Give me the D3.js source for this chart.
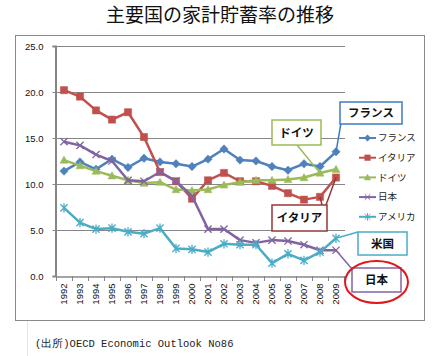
<!DOCTYPE html>
<html><head><meta charset="utf-8">
<script src="https://cdn.jsdelivr.net/npm/d3@7"></script>
<style>
html,body{margin:0;padding:0;background:#fff;}
svg{display:block;}
</style></head>
<body>
<svg id="c" width="439" height="356"></svg>
<script>
const title = "主要国の家計貯蓄率の推移";
const source = "(出所)OECD Economic Outlook No86";
const years = ["1992","1993","1994","1995","1996","1997","1998","1999","2000","2001","2002","2003","2004","2005","2006","2007","2008","2009"];
const seriesNames = ["フランス","イタリア","ドイツ","日本","アメリカ"];
const france  = [11.4,12.4,11.6,12.7,11.8,12.8,12.4,12.2,11.9,12.7,13.8,12.6,12.5,11.9,11.5,12.2,11.9,13.5];
const italy   = [20.2,19.5,18.0,17.0,17.8,15.1,11.3,10.3,8.4,10.4,11.2,10.3,10.3,9.8,9.0,8.3,8.6,10.7];
const germany = [12.6,12.0,11.4,10.9,10.4,10.1,10.2,9.4,9.3,9.4,9.9,10.2,10.4,10.4,10.5,10.7,11.2,11.6];
const japan   = [14.6,14.2,13.2,12.5,10.4,10.3,11.3,10.3,8.7,5.1,5.1,3.9,3.6,3.9,3.8,3.4,2.8,2.8];
const usa     = [7.4,5.8,5.1,5.2,4.8,4.6,5.2,3.0,2.9,2.6,3.5,3.4,3.4,1.4,2.4,1.7,2.6,4.1];
const yTicks  = [0,5,10,15,20,25];
const callouts = ["フランス","ドイツ","イタリア","米国","日本"];

const colors = ["#4F81BD","#C0504D","#9BBB59","#8064A2","#4BACC6"];
const markers = ["diamond","square","triangle","times","star"];
const allSeries = [france, italy, germany, japan, usa];

const svg = d3.select("#c");
const cjk = "'Noto Sans CJK JP','Noto Sans',sans-serif";

// title
svg.append("text").attr("x",220).attr("y",22).attr("text-anchor","middle")
  .attr("font-family",cjk).attr("font-size",19).attr("font-weight",400).attr("fill","#111").text(title);

// chart frame
svg.append("rect").attr("x",15.5).attr("y",35.5).attr("width",409).attr("height",285)
  .attr("fill","#fff").attr("stroke","#8a8a8a").attr("stroke-width",1);
svg.append("line").attr("x1",27.5).attr("x2",27.5).attr("y1",321).attr("y2",356).attr("stroke","#e4e4e4");

const x = d3.scaleBand().domain(years).range([56,344]);
const y = d3.scaleLinear().domain([0,25]).range([276,46]);
const cx = d => x(d) + x.bandwidth()/2;

// gridlines
svg.append("g").selectAll("line").data(yTicks.filter(d=>d>0)).join("line")
  .attr("x1",56).attr("x2",345).attr("y1",d=>Math.round(y(d))+0.5).attr("y2",d=>Math.round(y(d))+0.5)
  .attr("stroke","#868686").attr("stroke-width",1);

// y axis
const ya = svg.append("g").attr("transform","translate(55.5,0)")
  .call(d3.axisLeft(y).tickValues(yTicks).tickFormat(d3.format(".1f")).tickSize(3).tickPadding(9));
ya.select(".domain").attr("stroke","#868686").attr("stroke-width",2);
ya.selectAll(".tick line").attr("stroke","#868686");
ya.selectAll("text").attr("font-family","'Liberation Sans',Arial,sans-serif").attr("font-size",9.5).attr("fill","#111");

// x axis
const xa = svg.append("g").attr("transform","translate(0,276.5)")
  .call(d3.axisBottom(x).tickSize(0).tickPadding(0));
xa.select(".domain").attr("stroke","#868686").attr("stroke-width",1.5);
xa.selectAll("text").attr("font-family","'Liberation Sans',Arial,sans-serif").attr("font-size",9.5).attr("fill","#111")
  .attr("text-anchor","end").attr("dy","0.35em").attr("transform","translate(0,7) rotate(-90)");
svg.append("g").selectAll("line").data(years.concat(["end"])).join("line")
  .attr("x1",d=> d==="end" ? x.range()[1]+0.5 : Math.round(x(d))+0.5)
  .attr("x2",d=> d==="end" ? x.range()[1]+0.5 : Math.round(x(d))+0.5)
  .attr("y1",276).attr("y2",281).attr("stroke","#868686");

// marker path generator
function markerPath(type, s){
  switch(type){
    case "diamond": return `M0,${-s}L${s},0L0,${s}L${-s},0Z`;
    case "square": return `M${-s},${-s}H${s}V${s}H${-s}Z`;
    case "triangle": return `M0,${-s}L${s},${s*0.8}L${-s},${s*0.8}Z`;
    case "times": return `M${-s},${-s}L${s},${s}M${-s},${s}L${s},${-s}`;
    case "star": return `M${-s},${-s}L${s},${s}M${-s},${s}L${s},${-s}M0,${-s-1}L0,${s+1}`;
  }
}
const filled = t => t==="diamond"||t==="square"||t==="triangle";

const line = d3.line().x((d,i)=>cx(years[i])).y(d=>y(d));
allSeries.forEach((vals, si)=>{
  const g = svg.append("g");
  g.append("path").datum(vals).attr("d",line).attr("fill","none")
    .attr("stroke",colors[si]).attr("stroke-width",2.5).attr("stroke-linejoin","round");
  const size = markers[si]==="diamond"?4.2: markers[si]==="square"?3.6: markers[si]==="triangle"?4:3.6;
  g.selectAll("path.m").data(vals).join("path").attr("class","m")
    .attr("transform",(d,i)=>`translate(${cx(years[i])},${y(d)})`)
    .attr("d",markerPath(markers[si], size))
    .attr("fill", filled(markers[si]) ? colors[si] : "none")
    .attr("stroke",colors[si]).attr("stroke-width", filled(markers[si])?0.5:1.3);
});

// legend
const lg = svg.append("g");
seriesNames.forEach((n,i)=>{
  const ly = 138 + i*19.7;
  lg.append("line").attr("x1",359).attr("x2",376).attr("y1",ly).attr("y2",ly).attr("stroke",colors[i]).attr("stroke-width",2);
  const s = markers[i]==="diamond"?3.2: markers[i]==="square"?2.8: markers[i]==="triangle"?3.2:2.8;
  lg.append("path").attr("transform",`translate(367.5,${ly})`).attr("d",markerPath(markers[i],s))
    .attr("fill",filled(markers[i])?colors[i]:"none").attr("stroke",colors[i]).attr("stroke-width",filled(markers[i])?0.5:1);
  lg.append("text").attr("x",378).attr("y",ly).attr("dy","0.35em").attr("font-family",cjk)
    .attr("font-size",9.5).attr("fill","#222").text(n);
});

// callouts
const last = years.length-1;
const boxes = [
  {t:callouts[0], x:340, y:102, w:62, h:22, c:"#3E7CC2", leaders:[[341,123, cx(years[last]), y(france[last])]]},
  {t:callouts[1], x:272, y:120, w:49, h:25, c:"#9BBB59", leaders:[[297,145, cx(years[last-1]), y(germany[last-1])]]},
  {t:callouts[2], x:272, y:205, w:55, h:26, c:"#953735", leaders:[[322,205, cx(years[last-1]), y(italy[last-1])],[326,205, cx(years[last]), y(italy[last])]]},
  {t:callouts[3], x:358, y:232, w:49, h:23, c:"#4BACC6", leaders:[[358,232, cx(years[last]), y(usa[last])]]},
  {t:callouts[4], x:352, y:268, w:49, h:24, c:"#8064A2", leaders:[[352,269, cx(years[last]), y(japan[last])]]}
];
boxes.forEach(b=>{
  b.leaders.forEach(l=>{
    svg.append("line").attr("x1",l[0]).attr("y1",l[1]).attr("x2",l[2]).attr("y2",l[3])
      .attr("stroke",b.c).attr("stroke-width",1.5);
  });
  svg.append("rect").attr("x",b.x).attr("y",b.y).attr("width",b.w).attr("height",b.h)
    .attr("fill","#fff").attr("stroke",b.c).attr("stroke-width",1.5);
  svg.append("text").attr("x",b.x+b.w/2).attr("y",b.y+b.h/2).attr("dy","0.36em").attr("text-anchor","middle")
    .attr("font-family",cjk).attr("font-size",11.5).attr("font-weight",700).attr("fill","#111").text(b.t);
});

// red ellipse around Japan callout
svg.append("ellipse").attr("cx",376.5).attr("cy",282).attr("rx",31.5).attr("ry",21)
  .attr("fill","none").attr("stroke","#E0161B").attr("stroke-width",2);

// source
svg.append("text").attr("x",35).attr("y",347).attr("font-family","'Liberation Mono','DejaVu Sans Mono',monospace")
  .attr("font-size",10.5).attr("fill","#222").text(source);
</script>
</body></html>
